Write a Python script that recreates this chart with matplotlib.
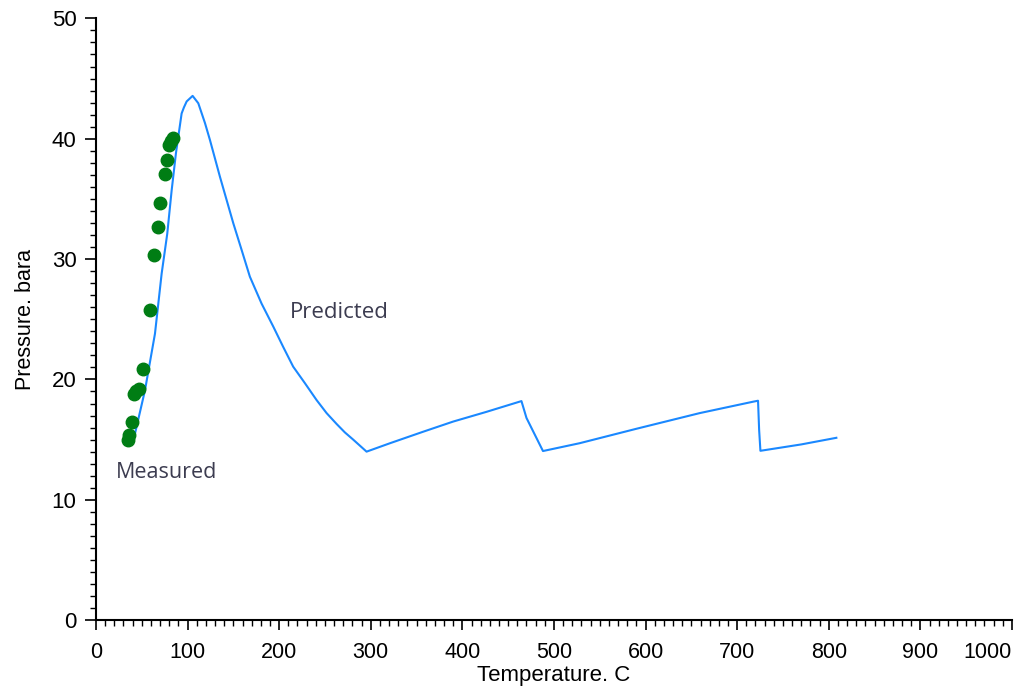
import numpy as np
import matplotlib.pyplot as plt
from matplotlib.ticker import MultipleLocator

# predicted pressure curve
pred_temp = [42.6, 53.5, 64.4, 71.7, 77.8, 82.6, 87.3, 93.5, 96, 99, 105.5, 111.7, 119,
             124.4, 135.3, 149.9, 159, 168, 180.8, 193.5, 204.4, 215.3, 228, 240.8,
             251.8, 262.7, 271.7, 280.8, 295.4,
             321, 357, 390, 426, 464.5, 470, 488, 528, 590, 659, 717.4, 722.8,
             724, 725.4, 770, 808.3]
pred_pres = [15.5, 19.1, 23.8, 28.8, 32.1, 35.7, 38.8, 42.1, 42.6, 43.1, 43.56, 42.95, 41.3,
             39.9, 36.85, 32.98, 30.76, 28.54, 26.3, 24.4, 22.7, 21.06, 19.7, 18.29,
             17.2, 16.3, 15.6, 15.0, 14.0,
             14.7, 15.65, 16.5, 17.3, 18.2, 16.8, 14.05, 14.7, 15.9, 17.2, 18.15, 18.23,
             15.8, 14.07, 14.6, 15.15]

# measured points
meas_temp = [35, 36, 38.9, 41.5, 44, 47, 50.9, 58.9, 63.7, 68.1, 70.2, 75, 77.9, 80, 82, 84]
meas_pres = [15.0, 15.4, 16.5, 18.8, 19.0, 19.2, 20.9, 25.8, 30.3, 32.7, 34.7, 37.1, 38.2,
             39.5, 39.8, 40.1]

plt.rcParams['font.family'] = ['Liberation Sans', 'DejaVu Sans']

fig = plt.figure(figsize=(10.2, 6.96), dpi=100)
ax = fig.add_axes([0.0941, 0.109, 0.898, 0.8646])

ax.plot(pred_temp, pred_pres, color='#1a88ff', linewidth=1.5, zorder=2)
ax.plot(meas_temp, meas_pres, 'o', color='#007d14', markersize=9, zorder=3)

ax.set_xlim(0, 1000)
ax.set_ylim(0, 50)

ax.xaxis.set_major_locator(MultipleLocator(100))
ax.xaxis.set_minor_locator(MultipleLocator(10))
ax.yaxis.set_major_locator(MultipleLocator(10))
ax.yaxis.set_minor_locator(MultipleLocator(1))

ax.spines['top'].set_visible(False)
ax.spines['right'].set_visible(False)
ax.spines['left'].set_linewidth(1.5)
ax.spines['bottom'].set_linewidth(1.5)

ax.tick_params(axis='x', which='major', direction='out', length=7, width=1.2, labelsize=15.5, pad=9)
ax.tick_params(axis='x', which='minor', direction='out', length=4, width=1.0)
ax.tick_params(axis='y', which='major', direction='out', length=8, width=1.2, labelsize=16, pad=6)
ax.tick_params(axis='y', which='minor', direction='out', length=4.5, width=1.0)

xt = list(range(0, 1001, 100))
ax.set_xticks(xt)
ax.set_xticklabels([str(v) for v in xt])
ax.get_xticklabels()[-1].set_horizontalalignment('right')

ax.set_xlabel('Temperature. C', fontsize=16, labelpad=1)
ax.set_ylabel('Pressure. bara', fontsize=15.5, labelpad=11)

ax.text(212, 25.6, 'Predicted', fontsize=16, color='#3c3c50', family=['Open Sans', 'DejaVu Sans'], va='center')
ax.text(22, 12.3, 'Measured', fontsize=15.5, color='#3c3c50', family=['Open Sans', 'DejaVu Sans'], va='center')

fig.savefig('out.png', dpi=100)
